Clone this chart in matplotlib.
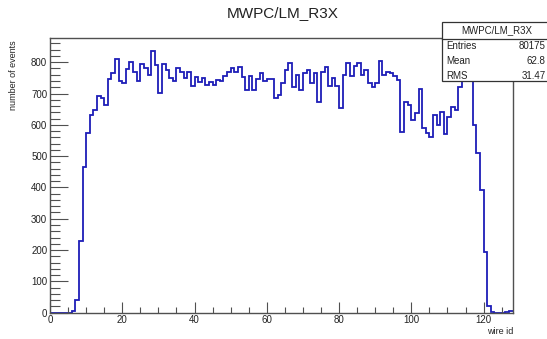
import numpy as np
import matplotlib
matplotlib.use("Agg")
import matplotlib.pyplot as plt
from matplotlib.ticker import MultipleLocator

plt.rcParams['font.family'] = ['Liberation Sans', 'DejaVu Sans']

# Hit counts per wire (128 wires, one bin each)
wire_counts = [
    0, 0, 0, 0, 0, 0, 6, 40, 230, 466,
    575, 631, 647, 692, 685, 662, 745, 765, 809, 741,
    735, 777, 800, 770, 740, 795, 780, 760, 837, 790,
    703, 795, 775, 750, 740, 780, 770, 748, 770, 725,
    754, 738, 750, 728, 738, 728, 744, 740, 756, 770,
    781, 770, 786, 754, 712, 756, 712, 745, 765, 740,
    746, 746, 685, 696, 735, 775, 797, 722, 760, 712,
    765, 775, 733, 765, 674, 770, 786, 724, 749, 724,
    653, 760, 799, 756, 788, 797, 760, 776, 735, 722,
    735, 805, 760, 770, 765, 756, 744, 578, 674, 664,
    615, 637, 714, 589, 575, 562, 631, 600, 642, 570,
    626, 658, 647, 722, 756, 790, 760, 600, 509, 393,
    195, 20, 3, 0, 0, 0, 2, 4,
]
wire_edges = np.arange(len(wire_counts) + 1)

hist_title = "MWPC/LM_R3X"
x_label = "wire id"
y_label = "number of events"
stat_names = ["Entries", "Mean", "RMS"]
stat_values = ["80175", "62.8", "31.47"]

W, H = 547, 339
fig = plt.figure(figsize=(W / 100, H / 100), dpi=100)
fig.patch.set_facecolor("white")

x0, x1 = 50 / W, 512.5 / W
y0, y1 = 1 - 312.7 / H, 1 - 37.5 / H
ax = fig.add_axes([x0, y0, x1 - x0, y1 - y0])

ax.stairs(wire_counts, wire_edges, color="#1e1eb8", linewidth=1.3, baseline=None)

ax.set_xlim(0, len(wire_counts))
ax.set_ylim(0, max(wire_counts) * 1.05)

ax.xaxis.set_major_locator(MultipleLocator(20))
ax.xaxis.set_minor_locator(MultipleLocator(5))
ax.yaxis.set_major_locator(MultipleLocator(100))
ax.yaxis.set_minor_locator(MultipleLocator(20))

frame_color = "#505050"
for s in ax.spines.values():
    s.set_color(frame_color)
    s.set_linewidth(1.0)

ax.tick_params(axis="both", which="both", direction="in", colors=frame_color,
               labelcolor="#222222", labelsize=7, top=False, right=False)
ax.tick_params(axis="y", which="major", length=13, width=0.8, pad=2)
ax.tick_params(axis="y", which="minor", length=7, width=0.8)
ax.tick_params(axis="x", which="major", length=8, width=0.8, pad=2)
ax.tick_params(axis="x", which="minor", length=4.5, width=0.8)

fig.text(283 / W, 1 - 13 / H, hist_title, ha="center", va="center",
         fontsize=11, color="#222222")
fig.text(513 / W, 1 - 332 / H, x_label, ha="right", va="center",
         fontsize=6.5, color="#222222")
fig.text(14 / W, 1 - 40 / H, y_label, ha="center", va="top", rotation=90,
         fontsize=6.5, color="#222222")

# Statistics box (extends past the right edge of the canvas)
bx0, bx1 = 442 / W, 553 / W
by_top, by_bot = 1 - 22.5 / H, 1 - 81 / H
box = plt.Rectangle((bx0, by_bot), bx1 - bx0, by_top - by_bot,
                    transform=fig.transFigure, facecolor="white",
                    edgecolor="#333333", linewidth=0.9, zorder=5, clip_on=False)
fig.add_artist(box)
sep_y = 1 - 38.5 / H
fig.add_artist(plt.Line2D([bx0, bx1], [sep_y, sep_y], transform=fig.transFigure,
                          color="#333333", linewidth=0.9, zorder=6))
fig.text(497 / W, 1 - 30.5 / H, hist_title, ha="center", va="center",
         fontsize=7, color="#222222", zorder=7)
row_y = [46, 61.5, 76]
for name, val, ry in zip(stat_names, stat_values, row_y):
    fig.text(446 / W, 1 - ry / H, name, ha="left", va="center",
             fontsize=7, color="#222222", zorder=7)
    fig.text(545.5 / W, 1 - ry / H, val, ha="right", va="center",
             fontsize=7, color="#222222", zorder=7)

fig.savefig("out.png", dpi=100)
